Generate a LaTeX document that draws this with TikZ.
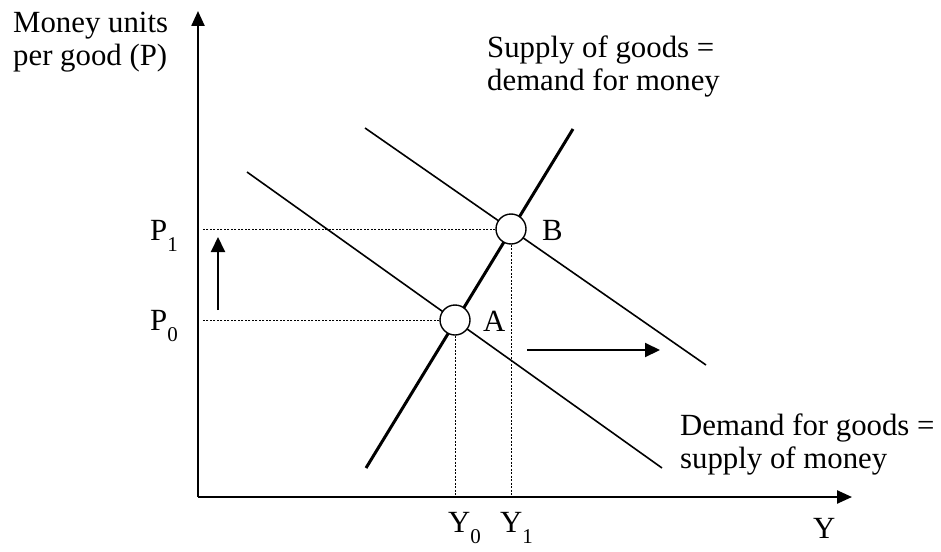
\documentclass[tikz,border=0pt]{standalone}
\usepackage{fontspec}
\setmainfont{Liberation Serif}
\usetikzlibrary{arrows.meta,calc,positioning}
\newcommand{\subidx}[2]{#1\raisebox{-0.38em}{\fontsize{21}{21}\selectfont #2}}

\begin{document}
\begin{tikzpicture}[x=1pt,y=-1pt,
  axis/.style={line width=2.4pt,-{Triangle[length=15pt,width=13pt]}},
  move/.style={line width=2pt,-{Triangle[length=15pt,width=14pt]}},
  curve/.style={line width=1.6pt},
  guide/.style={line width=0.8pt,dash pattern=on 2pt off 1.5pt},
  eqpoint/.style={circle,draw,fill=white,line width=1.4pt,minimum size=30pt,inner sep=0pt},
  lbl/.style={font=\fontsize{30.8}{33}\selectfont,inner sep=0pt,align=left}]
  \useasboundingbox (0,0) rectangle (941,551);
  % axes
  \coordinate (O) at (198,497);
  \coordinate (ytip) at (198,11);
  \coordinate (xtip) at (852,497);
  \draw[axis] (O) -- (ytip);
  \draw[axis] (O) -- (xtip);
  \node[lbl,anchor=base west] (ylab) at (13,66) {Money units\\per good (P)};
  \node[lbl,anchor=base west] (xlab) at (813,538) {Y};
  % demand and supply lines
  \coordinate (d0s) at (247,172);
  \coordinate (d0e) at (662,468);
  \coordinate (d1s) at (365,128);
  \coordinate (d1e) at (706,365);
  \coordinate (ss) at (366,468);
  \coordinate (se) at (573,129);
  \draw[curve] (d0s) -- (d0e);
  \draw[curve] (d1s) -- (d1e);
  \draw[curve,line width=3pt] (ss) -- (se);
  \node[lbl,anchor=base west] (slab) at (487,90) {Supply of goods =\\demand for money};
  \node[lbl,anchor=base west] (dlab) at (680,468) {Demand for goods =\\supply of money};
  % equilibria
  \node[eqpoint] (A) at (455,320) {};
  \node[eqpoint] (B) at (511,229) {};
  \node[lbl,anchor=base west] (Alab) at (483,331) {A};
  \node[lbl,anchor=base west] (Blab) at (542,240) {B};
  % guides to the axes
  \draw[guide] (A.west) -- (A.west -| 203,0);
  \draw[guide] (B.west) -- (B.west -| 203,0);
  \draw[guide] (A.south) -- (A.south |- O);
  \draw[guide] (B.south) -- (B.south |- O);
  \node[lbl,anchor=base west] (P0) at (150,330) {\subidx{P}{0}};
  \node[lbl,anchor=base west] (P1) at (150,240) {\subidx{P}{1}};
  \node[lbl,anchor=base west] (Y0) at (448,532) {\subidx{Y}{0}};
  \node[lbl,anchor=base west] (Y1) at (500,532) {\subidx{Y}{1}};
  % shifts
  \coordinate (ups) at (218,310);
  \coordinate (upe) at (218,237);
  \coordinate (rts) at (527,350);
  \coordinate (rte) at (660,350);
  \draw[move] (ups) -- (upe);
  \draw[move] (rts) -- (rte);
\end{tikzpicture}
\end{document}
